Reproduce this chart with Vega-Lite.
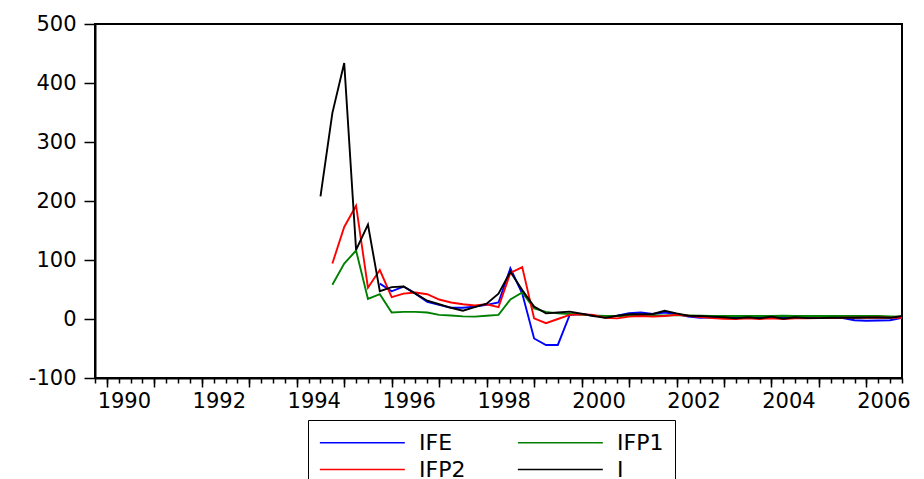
{
  "$schema": "https://vega.github.io/schema/vega-lite/v6.json",
  "width": 807,
  "height": 354,
  "autosize": {"type": "none"},
  "padding": {"left": 95, "top": 24, "right": 22, "bottom": 101},
  "background": "white",
  "config": {
    "view": {"stroke": "black", "strokeWidth": 2},
    "axis": {"labelFont": "DejaVu Sans", "labelFontSize": 21, "labelColor": "black", "tickColor": "black", "domainColor": "black", "grid": false, "title": null},
    "legend": {"labelFont": "DejaVu Sans", "labelFontSize": 22, "labelColor": "black"}
  },
  "data": {
    "values": [
      {"series": "IFE", "t": 1995.75, "value": 60},
      {"series": "IFE", "t": 1996, "value": 47},
      {"series": "IFE", "t": 1996.25, "value": 55},
      {"series": "IFE", "t": 1996.5, "value": 43},
      {"series": "IFE", "t": 1996.75, "value": 29},
      {"series": "IFE", "t": 1997, "value": 24},
      {"series": "IFE", "t": 1997.25, "value": 19},
      {"series": "IFE", "t": 1997.5, "value": 19},
      {"series": "IFE", "t": 1997.75, "value": 21},
      {"series": "IFE", "t": 1998, "value": 24},
      {"series": "IFE", "t": 1998.25, "value": 28},
      {"series": "IFE", "t": 1998.5, "value": 86},
      {"series": "IFE", "t": 1998.75, "value": 43},
      {"series": "IFE", "t": 1999, "value": -33},
      {"series": "IFE", "t": 1999.25, "value": -44},
      {"series": "IFE", "t": 1999.5, "value": -44},
      {"series": "IFE", "t": 1999.75, "value": 7},
      {"series": "IFE", "t": 2000, "value": 8.5},
      {"series": "IFE", "t": 2000.25, "value": 5.5},
      {"series": "IFE", "t": 2000.5, "value": 4},
      {"series": "IFE", "t": 2000.75, "value": 5.5},
      {"series": "IFE", "t": 2001, "value": 9.7},
      {"series": "IFE", "t": 2001.25, "value": 11},
      {"series": "IFE", "t": 2001.5, "value": 8.5},
      {"series": "IFE", "t": 2001.75, "value": 11},
      {"series": "IFE", "t": 2002, "value": 8.5},
      {"series": "IFE", "t": 2002.25, "value": 4},
      {"series": "IFE", "t": 2002.5, "value": 2},
      {"series": "IFE", "t": 2002.75, "value": 3},
      {"series": "IFE", "t": 2003, "value": 2.5},
      {"series": "IFE", "t": 2003.25, "value": 2},
      {"series": "IFE", "t": 2003.5, "value": 3},
      {"series": "IFE", "t": 2003.75, "value": 2},
      {"series": "IFE", "t": 2004, "value": 4},
      {"series": "IFE", "t": 2004.25, "value": 3},
      {"series": "IFE", "t": 2004.5, "value": 3},
      {"series": "IFE", "t": 2004.75, "value": 2},
      {"series": "IFE", "t": 2005, "value": 2},
      {"series": "IFE", "t": 2005.25, "value": 2},
      {"series": "IFE", "t": 2005.5, "value": 1.5},
      {"series": "IFE", "t": 2005.75, "value": -2},
      {"series": "IFE", "t": 2006, "value": -3},
      {"series": "IFE", "t": 2006.25, "value": -2.5},
      {"series": "IFE", "t": 2006.5, "value": -2},
      {"series": "IFE", "t": 2006.75, "value": 2},
      {"series": "IFP1", "t": 1994.75, "value": 58},
      {"series": "IFP1", "t": 1995, "value": 94},
      {"series": "IFP1", "t": 1995.25, "value": 116},
      {"series": "IFP1", "t": 1995.5, "value": 34},
      {"series": "IFP1", "t": 1995.75, "value": 42},
      {"series": "IFP1", "t": 1996, "value": 11},
      {"series": "IFP1", "t": 1996.25, "value": 12},
      {"series": "IFP1", "t": 1996.5, "value": 12},
      {"series": "IFP1", "t": 1996.75, "value": 11},
      {"series": "IFP1", "t": 1997, "value": 7},
      {"series": "IFP1", "t": 1997.25, "value": 6},
      {"series": "IFP1", "t": 1997.5, "value": 4.5},
      {"series": "IFP1", "t": 1997.75, "value": 4},
      {"series": "IFP1", "t": 1998, "value": 5.5},
      {"series": "IFP1", "t": 1998.25, "value": 7},
      {"series": "IFP1", "t": 1998.5, "value": 33},
      {"series": "IFP1", "t": 1998.75, "value": 45},
      {"series": "IFP1", "t": 1999, "value": 18},
      {"series": "IFP1", "t": 1999.25, "value": 12},
      {"series": "IFP1", "t": 1999.5, "value": 9.5},
      {"series": "IFP1", "t": 1999.75, "value": 8.5},
      {"series": "IFP1", "t": 2000, "value": 7.5},
      {"series": "IFP1", "t": 2000.25, "value": 6},
      {"series": "IFP1", "t": 2000.5, "value": 5},
      {"series": "IFP1", "t": 2000.75, "value": 5},
      {"series": "IFP1", "t": 2001, "value": 5.5},
      {"series": "IFP1", "t": 2001.25, "value": 6},
      {"series": "IFP1", "t": 2001.5, "value": 6},
      {"series": "IFP1", "t": 2001.75, "value": 6},
      {"series": "IFP1", "t": 2002, "value": 6.5},
      {"series": "IFP1", "t": 2002.25, "value": 6},
      {"series": "IFP1", "t": 2002.5, "value": 5.5},
      {"series": "IFP1", "t": 2002.75, "value": 5},
      {"series": "IFP1", "t": 2003, "value": 5},
      {"series": "IFP1", "t": 2003.25, "value": 5},
      {"series": "IFP1", "t": 2003.5, "value": 5},
      {"series": "IFP1", "t": 2003.75, "value": 5},
      {"series": "IFP1", "t": 2004, "value": 5},
      {"series": "IFP1", "t": 2004.25, "value": 5.5},
      {"series": "IFP1", "t": 2004.5, "value": 5},
      {"series": "IFP1", "t": 2004.75, "value": 5},
      {"series": "IFP1", "t": 2005, "value": 5},
      {"series": "IFP1", "t": 2005.25, "value": 5},
      {"series": "IFP1", "t": 2005.5, "value": 5},
      {"series": "IFP1", "t": 2005.75, "value": 5},
      {"series": "IFP1", "t": 2006, "value": 5},
      {"series": "IFP1", "t": 2006.25, "value": 5},
      {"series": "IFP1", "t": 2006.5, "value": 4.5},
      {"series": "IFP1", "t": 2006.75, "value": 4},
      {"series": "IFP2", "t": 1994.75, "value": 94},
      {"series": "IFP2", "t": 1995, "value": 156},
      {"series": "IFP2", "t": 1995.25, "value": 192},
      {"series": "IFP2", "t": 1995.5, "value": 53},
      {"series": "IFP2", "t": 1995.75, "value": 83},
      {"series": "IFP2", "t": 1996, "value": 37},
      {"series": "IFP2", "t": 1996.25, "value": 43},
      {"series": "IFP2", "t": 1996.5, "value": 45},
      {"series": "IFP2", "t": 1996.75, "value": 42},
      {"series": "IFP2", "t": 1997, "value": 33},
      {"series": "IFP2", "t": 1997.25, "value": 28},
      {"series": "IFP2", "t": 1997.5, "value": 25},
      {"series": "IFP2", "t": 1997.75, "value": 23},
      {"series": "IFP2", "t": 1998, "value": 25},
      {"series": "IFP2", "t": 1998.25, "value": 20},
      {"series": "IFP2", "t": 1998.5, "value": 78},
      {"series": "IFP2", "t": 1998.75, "value": 88},
      {"series": "IFP2", "t": 1999, "value": 1},
      {"series": "IFP2", "t": 1999.25, "value": -7},
      {"series": "IFP2", "t": 1999.5, "value": 0},
      {"series": "IFP2", "t": 1999.75, "value": 7},
      {"series": "IFP2", "t": 2000, "value": 8},
      {"series": "IFP2", "t": 2000.25, "value": 7},
      {"series": "IFP2", "t": 2000.5, "value": 2},
      {"series": "IFP2", "t": 2000.75, "value": 1},
      {"series": "IFP2", "t": 2001, "value": 4},
      {"series": "IFP2", "t": 2001.25, "value": 5},
      {"series": "IFP2", "t": 2001.5, "value": 4},
      {"series": "IFP2", "t": 2001.75, "value": 5},
      {"series": "IFP2", "t": 2002, "value": 7},
      {"series": "IFP2", "t": 2002.25, "value": 5.5},
      {"series": "IFP2", "t": 2002.5, "value": 3.5},
      {"series": "IFP2", "t": 2002.75, "value": 1.5},
      {"series": "IFP2", "t": 2003, "value": 0.5},
      {"series": "IFP2", "t": 2003.25, "value": 0},
      {"series": "IFP2", "t": 2003.5, "value": 1},
      {"series": "IFP2", "t": 2003.75, "value": 0},
      {"series": "IFP2", "t": 2004, "value": 1},
      {"series": "IFP2", "t": 2004.25, "value": 0},
      {"series": "IFP2", "t": 2004.5, "value": 1},
      {"series": "IFP2", "t": 2004.75, "value": 1},
      {"series": "IFP2", "t": 2005, "value": 1.5},
      {"series": "IFP2", "t": 2005.25, "value": 1.5},
      {"series": "IFP2", "t": 2005.5, "value": 2},
      {"series": "IFP2", "t": 2005.75, "value": 2},
      {"series": "IFP2", "t": 2006, "value": 2},
      {"series": "IFP2", "t": 2006.25, "value": 2.5},
      {"series": "IFP2", "t": 2006.5, "value": 2},
      {"series": "IFP2", "t": 2006.75, "value": 2},
      {"series": "I", "t": 1994.5, "value": 208},
      {"series": "I", "t": 1994.75, "value": 349},
      {"series": "I", "t": 1995, "value": 434},
      {"series": "I", "t": 1995.25, "value": 117},
      {"series": "I", "t": 1995.5, "value": 160},
      {"series": "I", "t": 1995.75, "value": 47},
      {"series": "I", "t": 1996, "value": 54},
      {"series": "I", "t": 1996.25, "value": 55},
      {"series": "I", "t": 1996.5, "value": 43},
      {"series": "I", "t": 1996.75, "value": 31},
      {"series": "I", "t": 1997, "value": 25},
      {"series": "I", "t": 1997.25, "value": 19},
      {"series": "I", "t": 1997.5, "value": 14},
      {"series": "I", "t": 1997.75, "value": 20},
      {"series": "I", "t": 1998, "value": 26},
      {"series": "I", "t": 1998.25, "value": 43},
      {"series": "I", "t": 1998.5, "value": 80},
      {"series": "I", "t": 1998.75, "value": 49},
      {"series": "I", "t": 1999, "value": 21},
      {"series": "I", "t": 1999.25, "value": 9.5},
      {"series": "I", "t": 1999.5, "value": 11},
      {"series": "I", "t": 1999.75, "value": 12.5},
      {"series": "I", "t": 2000, "value": 9},
      {"series": "I", "t": 2000.25, "value": 5},
      {"series": "I", "t": 2000.5, "value": 2},
      {"series": "I", "t": 2000.75, "value": 5.5},
      {"series": "I", "t": 2001, "value": 8},
      {"series": "I", "t": 2001.25, "value": 8},
      {"series": "I", "t": 2001.5, "value": 8.5},
      {"series": "I", "t": 2001.75, "value": 14},
      {"series": "I", "t": 2002, "value": 9.5},
      {"series": "I", "t": 2002.25, "value": 5.5},
      {"series": "I", "t": 2002.5, "value": 5},
      {"series": "I", "t": 2002.75, "value": 4},
      {"series": "I", "t": 2003, "value": 3},
      {"series": "I", "t": 2003.25, "value": 1},
      {"series": "I", "t": 2003.5, "value": 3},
      {"series": "I", "t": 2003.75, "value": 1},
      {"series": "I", "t": 2004, "value": 4},
      {"series": "I", "t": 2004.25, "value": 0.5},
      {"series": "I", "t": 2004.5, "value": 3},
      {"series": "I", "t": 2004.75, "value": 1.5},
      {"series": "I", "t": 2005, "value": 1.5},
      {"series": "I", "t": 2005.25, "value": 2},
      {"series": "I", "t": 2005.5, "value": 2},
      {"series": "I", "t": 2005.75, "value": 2},
      {"series": "I", "t": 2006, "value": 2.5},
      {"series": "I", "t": 2006.25, "value": 2.5},
      {"series": "I", "t": 2006.5, "value": 2},
      {"series": "I", "t": 2006.75, "value": 5}
    ]
  },
  "layer": [
    {
      "mark": {"type": "line", "opacity": 0},
      "encoding": {
        "x": {
          "field": "t", "type": "quantitative",
          "scale": {"domain": [1989.75, 2006.75], "nice": false, "zero": false},
          "axis": {
            "orient": "bottom", "domain": false, "labels": false, "tickSize": 5, "tickWidth": 1.5,
            "values": [1989.75, 1990, 1990.25, 1990.5, 1990.75, 1991, 1991.25, 1991.5, 1991.75, 1992, 1992.25, 1992.5, 1992.75, 1993, 1993.25, 1993.5, 1993.75, 1994, 1994.25, 1994.5, 1994.75, 1995, 1995.25, 1995.5, 1995.75, 1996, 1996.25, 1996.5, 1996.75, 1997, 1997.25, 1997.5, 1997.75, 1998, 1998.25, 1998.5, 1998.75, 1999, 1999.25, 1999.5, 1999.75, 2000, 2000.25, 2000.5, 2000.75, 2001, 2001.25, 2001.5, 2001.75, 2002, 2002.25, 2002.5, 2002.75, 2003, 2003.25, 2003.5, 2003.75, 2004, 2004.25, 2004.5, 2004.75, 2005, 2005.25, 2005.5, 2005.75, 2006, 2006.25, 2006.5, 2006.75]
          }
        },
        "y": {
          "field": "value", "type": "quantitative",
          "scale": {"domain": [-100, 500], "nice": false, "zero": false},
          "axis": {"values": [-100, 0, 100, 200, 300, 400, 500], "labelExpr": "'' + datum.value", "tickSize": 11, "tickWidth": 1.5, "domainWidth": 2, "labelPadding": 8, "labelFlush": false, "labelOverlap": false}
        },
        "detail": {"field": "series"}
      }
    },
    {
      "mark": {"type": "line", "strokeWidth": 1.9},
      "encoding": {
        "x": {
          "field": "t", "type": "quantitative",
          "scale": {"domain": [1989.75, 2006.75], "nice": false, "zero": false},
          "axis": {
            "orient": "bottom", "domain": true, "domainWidth": 2, "tickSize": 9, "tickWidth": 1.5,
            "values": [1990, 1991, 1992, 1993, 1994, 1995, 1996, 1997, 1998, 1999, 2000, 2001, 2002, 2003, 2004, 2005, 2006],
            "format": "d",
            "labelExpr": "datum.value % 2 == 0 ? datum.label : ''",
            "labelOffset": 17, "labelPadding": 3, "labelOverlap": false, "labelFlush": false
          }
        },
        "y": {
          "field": "value", "type": "quantitative",
          "scale": {"domain": [-100, 500], "nice": false, "zero": false},
          "axis": {"values": [-100, 0, 100, 200, 300, 400, 500], "labelExpr": "'' + datum.value", "tickSize": 11, "tickWidth": 1.5, "domainWidth": 2, "labelPadding": 8, "labelFlush": false, "labelOverlap": false}
        },
        "color": {
          "field": "series", "type": "nominal",
          "scale": {"domain": ["IFE", "IFP1", "IFP2", "I"], "range": ["#0000ff", "#008000", "#ff0000", "#000000"]},
          "legend": {
            "title": null, "orient": "none", "legendX": 213, "legendY": 396,
            "direction": "horizontal", "columns": 2, "symbolType": "M-1,0H7", "symbolSize": 451,
            "symbolStrokeWidth": 1.5, "symbolFillColor": "transparent", "labelOffset": 77, "columnPadding": 48, "rowPadding": 4,
            "padding": 11, "strokeColor": "black", "fillColor": "white", "labelLimit": 0
          }
        }
      }
    }
  ],
  "resolve": {"axis": {"x": "independent"}}
}
